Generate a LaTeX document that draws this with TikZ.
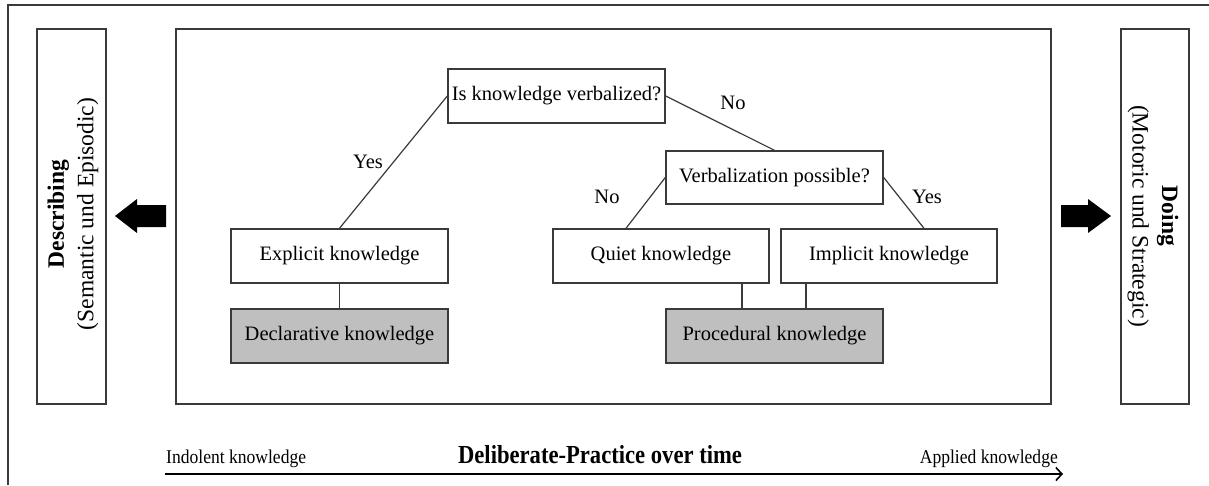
\documentclass[tikz,border=0pt]{standalone}
\usepackage{fontspec}
\setmainfont{Liberation Serif}
\usetikzlibrary{arrows.meta}
\definecolor{edge}{HTML}{3A3A3A}
\definecolor{shade}{HTML}{BFBFBF}
\tikzset{
  box/.style={draw=edge, line width=1.4pt, fill=white, minimum width=217pt, minimum height=54pt,
    inner sep=0pt, font=\fontsize{20.5}{24}\selectfont},
  result/.style={box, fill=shade},
  panel/.style={draw=edge, line width=1.4pt, inner sep=0pt},
  side/.style={align=center, font=\fontsize{23.5}{29.5}\selectfont},
  link/.style={draw=edge, line width=1.2pt},
  lbl/.style={font=\fontsize{20.5}{24}\selectfont, inner sep=0pt},
  blockarrow/.style={fill=black, draw=none},
  scaletext/.style={font=\fontsize{19.5}{23}\selectfont, inner sep=0pt}
}
\begin{document}
\begin{tikzpicture}[x=1pt, y=-1pt]
\useasboundingbox (0,0) rectangle (1209,485);

% outer frame (top and left edges)
\draw[edge, line width=1.4pt] (8,485) -- (8,5) -- (1209,5);

% side panels and central panel
\node[panel, minimum width=69pt, minimum height=375pt] (describe) at (71.5,216.5) {};
\node[panel, minimum width=875pt, minimum height=375pt] (main) at (613.5,216.5) {};
\node[panel, minimum width=68pt, minimum height=375pt] (doing) at (1155,216.5) {};

\node[side, rotate=90] (describetext) at (73,214) {\textbf{Describing}\\(Semantic und Episodic)};
\node[side, rotate=-90] (doingtext) at (1153,216) {\textbf{Doing}\\(Motoric und Strategic)};

% block arrows
\fill[blockarrow] (115,216) -- (137,199) -- (137,205) -- (166,205) -- (166,227) -- (137,227) -- (137,233) -- cycle;
\fill[blockarrow] (1111,216) -- (1088,199) -- (1088,205) -- (1061,205) -- (1061,227) -- (1088,227) -- (1088,233) -- cycle;

% decision tree
\node[box] (isverb) at (556.5,96) {Is knowledge verbalized?};
\node[box, minimum height=53pt] (verbpos) at (774.5,177.5) {Verbalization possible?};
\node[box] (explicit) at (339.5,256) {Explicit knowledge};
\node[result] (declar) at (339.5,336) {Declarative knowledge};
\node[box, minimum width=216pt] (quiet) at (661,256) {Quiet knowledge};
\node[box, minimum width=216pt] (implicit) at (889,256) {Implicit knowledge};
\node[result] (proc) at (774.5,336) {Procedural knowledge};

\draw[link] (isverb.west) -- (explicit.north);
\draw[link] (isverb.east) -- (verbpos.north);
\draw[link] (verbpos.west) -- ([xshift=-35pt]quiet.north);
\draw[link] (verbpos.east) -- ([xshift=35pt]implicit.north);
\draw[link] (explicit.south) -- (declar.north);
\draw[link] ([xshift=81pt]quiet.south) -- ([xshift=81pt]quiet.south |- proc.north);
\draw[link] ([xshift=-83pt]implicit.south) -- ([xshift=-83pt]implicit.south |- proc.north);

\node[lbl] (yes1) at (368,162) {Yes};
\node[lbl] (no1) at (733,103) {No};
\node[lbl] (no2) at (607,197) {No};
\node[lbl] (yes2) at (927,197) {Yes};

% time axis
\coordinate (axisstart) at (165,474);
\coordinate (axisend) at (1063,474);
\draw[black, line width=2.2pt, -{Straight Barb[length=6pt, width=13pt, line width=1.6pt]}] (axisstart) -- (axisend);
\node[scaletext, anchor=base west] (indolent) at (166,463) {\scalebox{0.9}[1]{Indolent knowledge}};
\node[scaletext, anchor=base east] (applied) at (1058,463) {\scalebox{0.9}[1]{Applied knowledge}};
\node[inner sep=0pt, anchor=base, font=\fontsize{26}{30}\selectfont\bfseries] (practice) at (600,463) {\scalebox{0.87}[1]{Deliberate-Practice over time}};
\end{tikzpicture}
\end{document}
